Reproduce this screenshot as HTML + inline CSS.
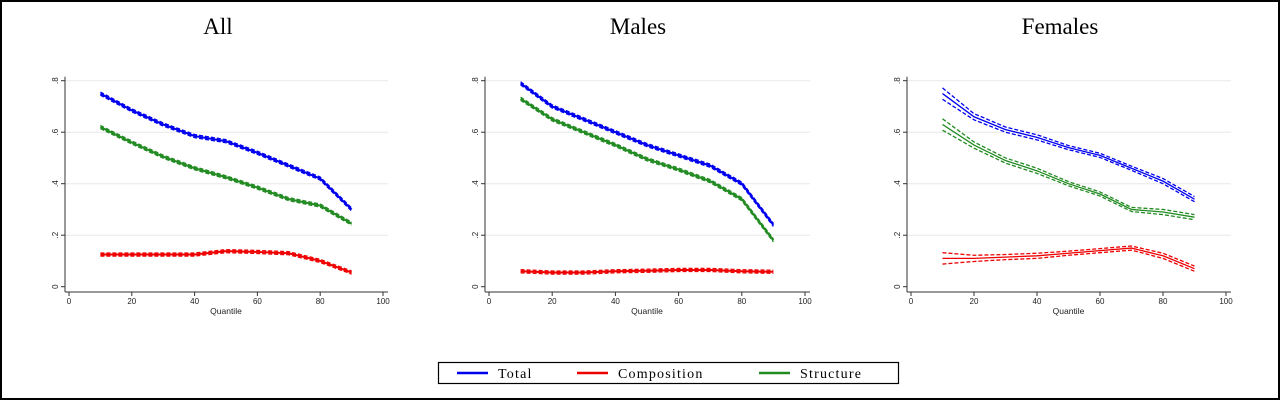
<!DOCTYPE html>
<html><head><meta charset="utf-8"><style>
html,body{margin:0;padding:0;background:#fff}
#frame{position:absolute;left:0;top:0;width:1276px;height:396px;border:2px solid #000;background:#fff}
svg{position:absolute;left:0;top:0}
</style></head><body>
<div id="frame"></div>
<svg id="chart" width="1280" height="400"></svg>
<script>
const panelTitles=["All","Males","Females"];
const quantiles=[10,20,30,40,50,60,70,80,90];
const xTicks=[0,20,40,60,80,100];
const yTicks=[0,0.2,0.4,0.6,0.8];
const yTickLabels=["0",".2",".4",".6",".8"];
const seriesNames=["Total","Composition","Structure"];
const seriesColors=["#0000ee","#ee0000","#228b22"];
const allTotal=[.75,.685,.63,.585,.565,.52,.47,.42,.30];
const allComp=[.125,.125,.125,.125,.138,.135,.13,.10,.055];
const allStruct=[.62,.56,.505,.46,.425,.385,.34,.315,.245];
const maleTotal=[.79,.70,.65,.60,.55,.51,.47,.40,.24];
const maleComp=[.06,.055,.055,.06,.062,.065,.065,.06,.058];
const maleStruct=[.73,.65,.60,.55,.495,.455,.41,.34,.18];
const femTotal=[.75,.66,.61,.58,.54,.51,.46,.41,.34];
const femComp=[.11,.11,.115,.12,.13,.14,.15,.12,.07];
const femStruct=[.63,.55,.49,.45,.40,.36,.30,.29,.27];
const allCI=[.006,.006,.006,.006,.006,.006,.006,.006,.006];
const maleCI=[.006,.006,.006,.006,.006,.006,.006,.006,.006];
const femCI=[.022,.012,.01,.01,.008,.008,.008,.01,.01];
const panelData=[[allTotal,allComp,allStruct],[maleTotal,maleComp,maleStruct],[femTotal,femComp,femStruct]];
const panelCI=[allCI,maleCI,femCI];

const NS="http://www.w3.org/2000/svg";
const svg=document.getElementById('chart');
function mk(tag,attrs,parent){const e=document.createElementNS(NS,tag);for(const k in attrs)e.setAttribute(k,attrs[k]);(parent||svg).appendChild(e);return e;}
const panels=[{x0:69,x1:383,ax:65,right:388,tx:218},{x0:489,x1:805,ax:485,right:810,tx:638},{x0:911,x1:1226,ax:907,right:1231,tx:1060}];
const yTop=80.7,yBot=286.7,axisY=292;
panels.forEach((p,pi)=>{
  const g=mk('g',{});
  
  
  const X=v=>p.x0+(p.x1-p.x0)*v/100;
  const Y=v=>yBot-(yBot-yTop)*v/0.8;
  const t=mk('text',{x:p.tx,y:34,'text-anchor':'middle','font-family':'Liberation Serif, serif','font-size':23,fill:'#000'},g);
  t.textContent=panelTitles[pi];
  
  
  yTicks.forEach((v,i)=>{
    if(v>0){const gl=mk('line',{x1:p.ax,x2:p.right,y1:Y(v),y2:Y(v),stroke:'#e8e8e8','stroke-width':1},g);
      }
    mk('line',{x1:p.ax-4,x2:p.ax,y1:Y(v),y2:Y(v),stroke:'#333'},g);
    const tl=mk('text',{x:0,y:0,transform:`translate(${p.ax-7},${Y(v)}) rotate(-90)`,'text-anchor':'middle','font-family':'Liberation Sans, sans-serif','font-size':8,fill:'#222'},g);
    tl.textContent=yTickLabels[i];
    
  });
  mk('line',{x1:p.ax,x2:p.ax,y1:yTop-4,y2:axisY,stroke:'#333'},g);
  mk('line',{x1:p.ax,x2:p.right,y1:axisY,y2:axisY,stroke:'#333'},g);
  xTicks.forEach(v=>{
    mk('line',{x1:X(v),x2:X(v),y1:axisY,y2:axisY+4,stroke:'#333'},g);
    const tl=mk('text',{x:X(v),y:axisY+12,'text-anchor':'middle','font-family':'Liberation Sans, sans-serif','font-size':8,fill:'#222'},g);
    tl.textContent=v;
    
  });
  const xl=mk('text',{x:(p.x0+p.x1)/2,y:axisY+22,'text-anchor':'middle','font-family':'Liberation Sans, sans-serif','font-size':8.5,fill:'#222'},g);
  xl.textContent='Quantile';
  
  panelData[pi].forEach((vals,si)=>{
    const ci=panelCI[pi];
    const pts=off=>quantiles.map((q,i)=>X(q)+','+Y(vals[i]+off*ci[i])).join(' ');
    [-1,1].forEach(s=>{
      const b=mk('polyline',{points:pts(s),fill:'none',stroke:seriesColors[si],'stroke-width':1.3,'stroke-dasharray':'4 2'},g);
      
    });
    const l=mk('polyline',{points:pts(0),fill:'none',stroke:seriesColors[si],'stroke-width':pi==2?1.3:2},g);
    
  });
});
const lg=mk('g',{});

mk('rect',{x:438.5,y:362.5,width:460,height:21,fill:'#fff',stroke:'#000','stroke-width':1.2},lg);
const lx=[457,577,759];
seriesNames.forEach((n,i)=>{
  mk('line',{x1:lx[i],x2:lx[i]+31,y1:373,y2:373,stroke:seriesColors[i],'stroke-width':2.5},lg);
  const t=mk('text',{x:lx[i]+41,y:378,'font-family':'Liberation Serif, serif','font-size':14,'letter-spacing':'1.2',fill:'#000'},lg);
  t.textContent=n;
  
});
</script>
</body></html>
